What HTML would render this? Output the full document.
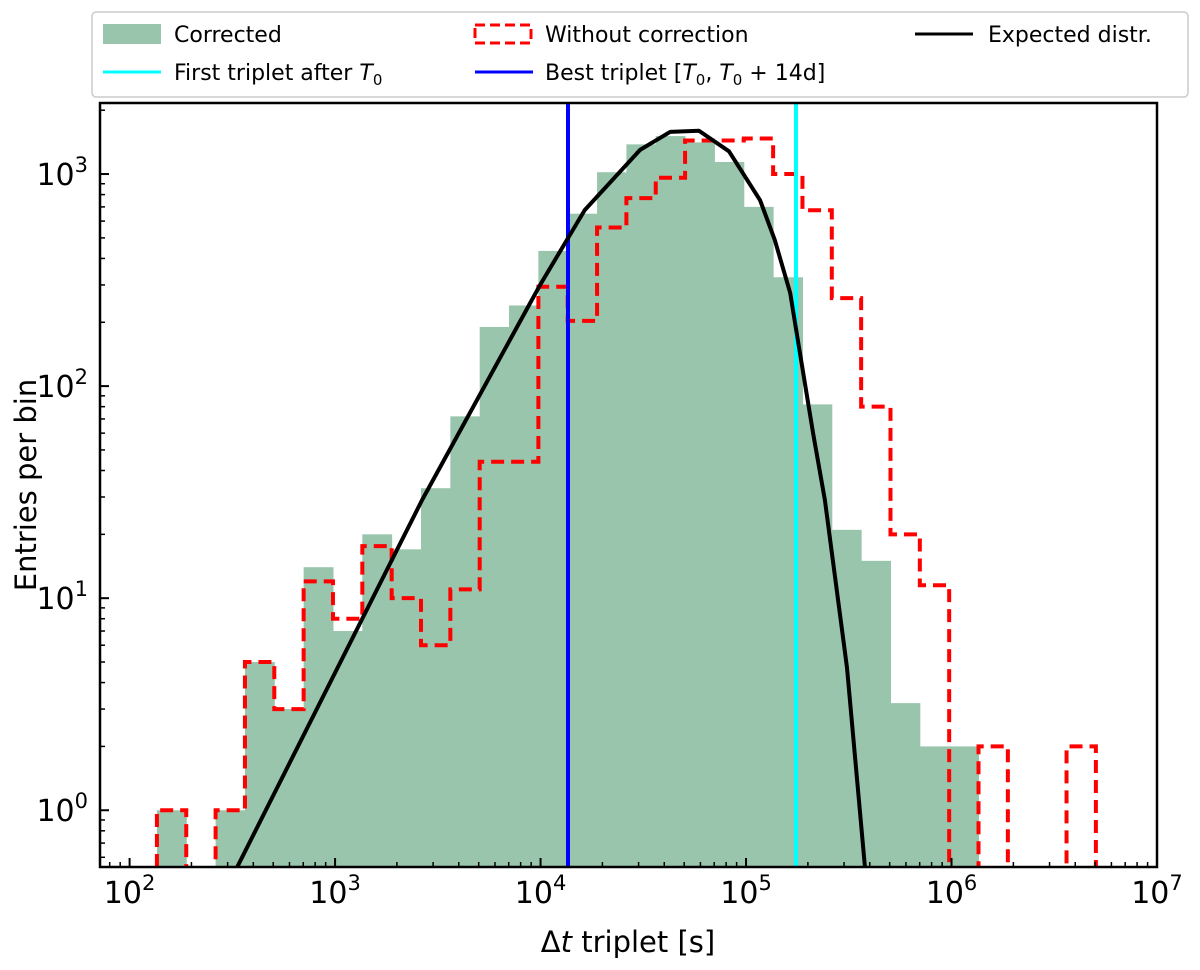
<!DOCTYPE html>
<html><head><meta charset="utf-8"><style>
body{margin:0;background:#fff;}
svg{display:block;font-family:"DejaVu Sans","Liberation Sans",sans-serif;}
</style></head><body>
<svg id="chart" width="1200" height="970" viewBox="0 0 1200 970" xmlns="http://www.w3.org/2000/svg">
<defs><clipPath id="clip"><rect x="100" y="103" width="1057" height="764"/></clipPath></defs>
<g id="plot" clip-path="url(#clip)"></g>
<g id="axes"></g>
<text x="628" y="952" font-size="29" text-anchor="middle">Δ<tspan font-style="italic">t</tspan> triplet [s]</text>
<text transform="translate(36,485) rotate(-90)" font-size="29" text-anchor="middle">Entries per bin</text>
<g>
<rect x="92" y="12" width="1096" height="85" rx="4" fill="#fff" stroke="#ccc" stroke-width="1.5"/>
<rect x="103" y="24" width="58" height="20" fill="#98c5ab"/>
<text x="174" y="42" font-size="22">Corrected</text>
<line x1="103" y1="72" x2="161" y2="72" stroke="#00ffff" stroke-width="3"/>
<text x="174" y="80" font-size="22">First triplet after <tspan font-style="italic">T</tspan><tspan font-size="15" dy="5">0</tspan></text>
<rect x="475" y="25" width="56" height="18" fill="none" stroke="#ff0000" stroke-width="3" stroke-dasharray="10,5"/>
<text x="545" y="42" font-size="22">Without correction</text>
<line x1="475" y1="72" x2="533" y2="72" stroke="#0000ff" stroke-width="3"/>
<text x="545" y="80" font-size="22">Best triplet [<tspan font-style="italic">T</tspan><tspan font-size="15" dy="5">0</tspan><tspan dy="-5">, </tspan><tspan font-style="italic">T</tspan><tspan font-size="15" dy="5">0</tspan><tspan dy="-5"> + 14d]</tspan></text>
<line x1="915" y1="34" x2="973" y2="34" stroke="#000" stroke-width="3"/>
<text x="988" y="42" font-size="22">Expected distr.</text>
</g>
</svg>
<script>
const binLogStart = 2.133;
const binLogWidth = 0.1428;
const correctedCounts = [1,0,1,5,3,14,7,20,17,33,72,190,240,434,650,1020,1380,1510,1410,1140,700,326,82,21,15,3.2,2,2,0,0,0,0];
const uncorrectedCounts = [1,0,1,5,3,12,8,17.6,10,6,11,44,44,294,203,560,770,960,1440,1440,1470,1000,675,260,80,20,11.5,0,2,0,0,2];
const expectedT = [334,2650,9930,16400,30500,42700,59000,82600,117000,138000,164000,183000,212000,242000,310000,379000];
const expectedCounts = [0.54,29,299,676,1300,1580,1600,1280,753,489,275,143,60,29,4.7,0.54];
const bestTripletT = 13600;
const firstTripletT = 175000;
const xTickExps = [2,3,4,5,6,7];
const yTickExps = [0,1,2,3];

const NS="http://www.w3.org/2000/svg";
const X0=100,X1=1157,Y0=103,Y1=867;
const xmin=1.856,xmax=7, ymin=Math.log10(0.54), ymax=3.335;
function xs(t){return X0+(Math.log10(t)-xmin)/(xmax-xmin)*(X1-X0);}
function xl(l){return X0+(l-xmin)/(xmax-xmin)*(X1-X0);}
function ys(v){return Y1-(Math.log10(v)-ymin)/(ymax-ymin)*(Y1-Y0);}
function mk(tag,attrs,parent){const e=document.createElementNS(NS,tag);for(const k in attrs)e.setAttribute(k,attrs[k]);parent.appendChild(e);return e;}
const plot=document.getElementById('plot'), axes=document.getElementById('axes');
const BOT=Y1+20;
correctedCounts.forEach((c,i)=>{
  if(c<=0)return;
  const xa=xl(binLogStart+i*binLogWidth), xb=xl(binLogStart+(i+1)*binLogWidth);
  const r=mk('rect',{x:xa,y:ys(c),width:xb-xa+0.5,height:BOT-ys(c),fill:'#98c5ab'},plot);
  
  
});
let d='';
uncorrectedCounts.forEach((c,i)=>{
  const xa=xl(binLogStart+i*binLogWidth), xb=xl(binLogStart+(i+1)*binLogWidth);
  const y=c>0?ys(c):BOT;
  d+=(i===0?`M${xa},${BOT}`:'')+`L${xa},${y}L${xb},${y}`;
});
d+=`L${xl(binLogStart+uncorrectedCounts.length*binLogWidth)},${BOT}`;
const st=mk('path',{d:d,fill:'none',stroke:'#ff0000','stroke-width':4,'stroke-dasharray':'13,7'},plot);


const bl=mk('line',{x1:xs(bestTripletT),x2:xs(bestTripletT),y1:Y0,y2:Y1,stroke:'#0000ff','stroke-width':4},plot);


const cl=mk('line',{x1:xs(firstTripletT),x2:xs(firstTripletT),y1:Y0,y2:Y1,stroke:'#00ffff','stroke-width':4},plot);


const pts=expectedT.map((t,i)=>xs(t)+','+ys(expectedCounts[i])).join(' ');
const ec=mk('polyline',{points:pts,fill:'none',stroke:'#000','stroke-width':4,'stroke-linejoin':'round'},plot);


const fr=mk('rect',{x:X0,y:Y0,width:X1-X0,height:Y1-Y0,fill:'none',stroke:'#000','stroke-width':2.5},axes);


xTickExps.forEach(e=>{
  const x=xl(e);
  mk('line',{x1:x,x2:x,y1:Y1,y2:Y1-9,stroke:'#000','stroke-width':2},axes);
  const t=mk('text',{x:x,y:903,'font-size':30,'text-anchor':'middle'},axes);
  t.innerHTML=`10<tspan font-size="21" dy="-13">${e}</tspan>`;
  
  
  for(let m=2;m<10;m++){const l=e+Math.log10(m);if(l>xmax)continue;const xm=xl(l);mk('line',{x1:xm,x2:xm,y1:Y1,y2:Y1-5,stroke:'#000','stroke-width':1.5},axes);}
});
for(let m=2;m<10;m++){const l=1+Math.log10(m);if(l<xmin)continue;const xm=xl(l);mk('line',{x1:xm,x2:xm,y1:Y1,y2:Y1-5,stroke:'#000','stroke-width':1.5},axes);}
yTickExps.forEach(e=>{
  const y=ys(Math.pow(10,e));
  mk('line',{x1:X0,x2:X0+9,y1:y,y2:y,stroke:'#000','stroke-width':2},axes);
  const t=mk('text',{x:88,y:y+11,'font-size':30,'text-anchor':'end'},axes);
  t.innerHTML=`10<tspan font-size="21" dy="-13">${e}</tspan>`;
  
  
});
for(let e=-1;e<4;e++)for(let m=2;m<10;m++){const v=m*Math.pow(10,e);if(v<0.54||v>Math.pow(10,ymax))continue;const y=ys(v);mk('line',{x1:X0,x2:X0+5,y1:y,y2:y,stroke:'#000','stroke-width':1.5},axes);}
</script>
</body></html>
